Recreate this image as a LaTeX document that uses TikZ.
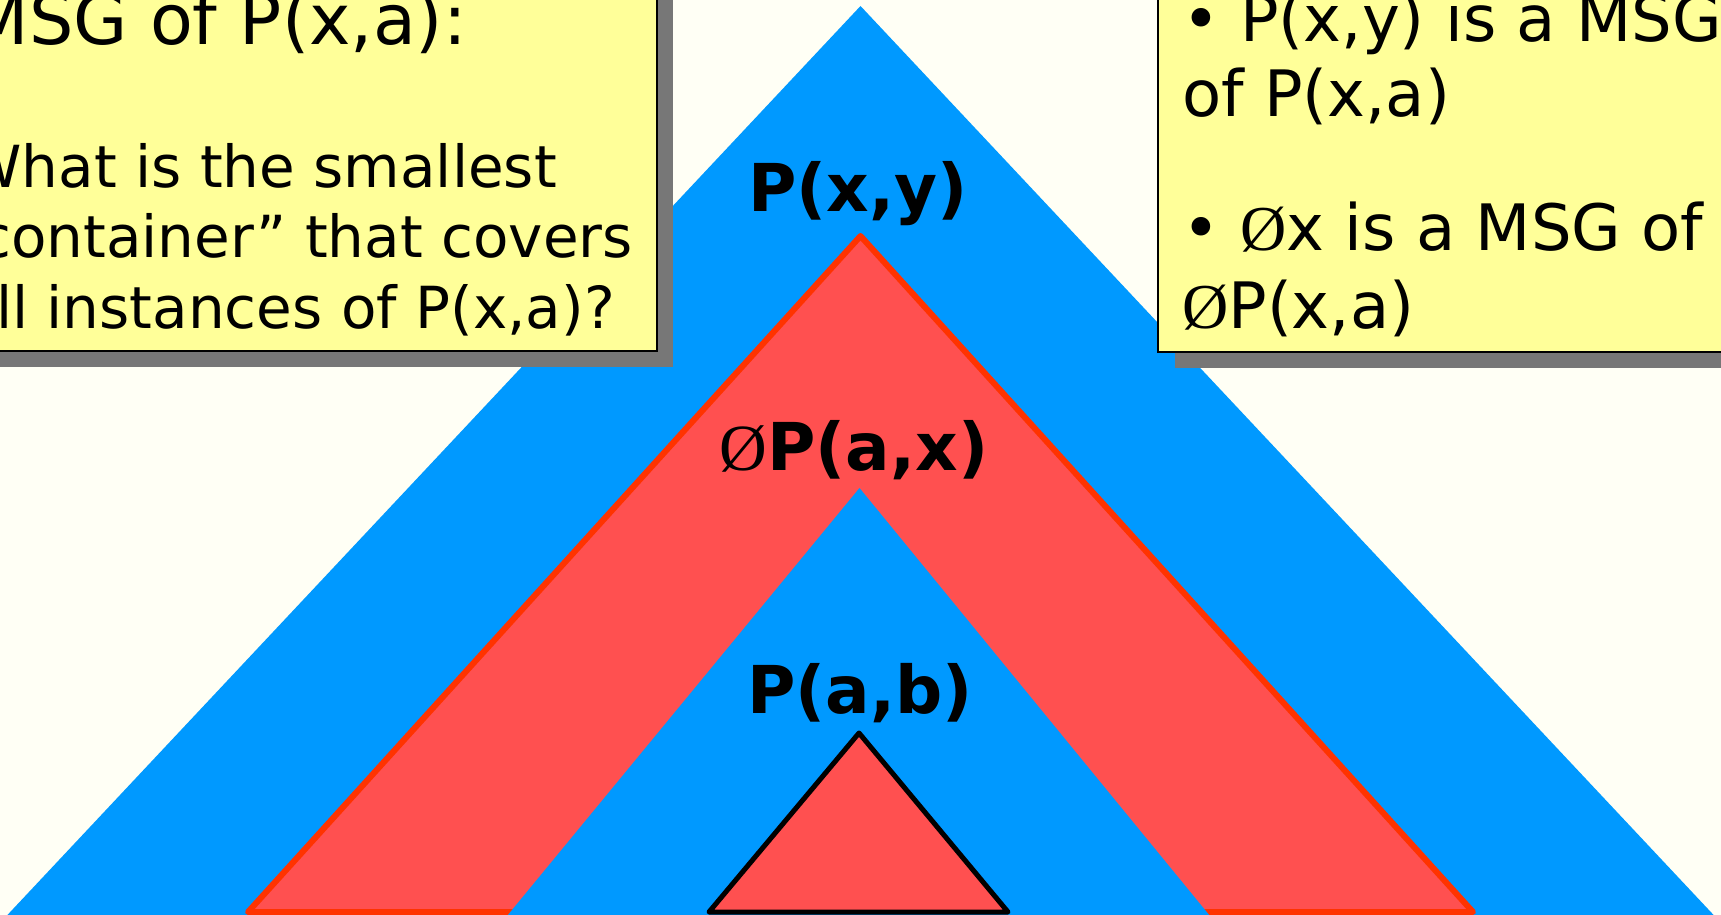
\documentclass[tikz,border=0pt]{standalone}
\usepackage{fontspec}
\setmainfont{DejaVu Sans}
\newfontfamily\emptyfont{Liberation Serif}
\definecolor{bgcream}{RGB}{255,255,245}
\definecolor{triblue}{RGB}{0,153,255}
\definecolor{trired}{RGB}{255,80,80}
\definecolor{redline}{RGB}{255,51,0}
\definecolor{noteyellow}{RGB}{255,255,153}
\definecolor{shadowgray}{RGB}{119,119,119}
\tikzset{
  bluetri/.style={fill=triblue},
  redtri/.style={fill=trired, draw=redline, line width=6pt, line join=round},
  smalltri/.style={fill=trired, draw=black, line width=5pt, line join=round},
  notebox/.style={fill=noteyellow, draw=black, line width=2.5pt},
  noteshadow/.style={fill=shadowgray},
  titleL/.style={anchor=base east, inner sep=0pt, font=\fontsize{70}{84}\selectfont},
  bodyL/.style={anchor=base east, inner sep=0pt, font=\fontsize{58}{70}\selectfont},
  bodyR/.style={anchor=base west, inner sep=0pt, font=\fontsize{64}{76}\selectfont},
  trilabel/.style={anchor=base, inner sep=0pt, font=\fontsize{66}{78}\selectfont\bfseries}
}
\begin{document}
\begin{tikzpicture}[x=1pt,y=-1pt]
\useasboundingbox (0,0) rectangle (1721,915);
\clip (0,0) rectangle (1721,915);
\fill[bgcream] (0,0) rectangle (1721,915);
% triangles
\coordinate (outerTop) at (860.5,6);
\coordinate (outerR) at (1723,925);
\coordinate (outerL) at (-2,925);
\coordinate (redTop) at (860.5,236);
\coordinate (redR) at (1473,912);
\coordinate (redL) at (248,912);
\coordinate (innerTop) at (859.5,488);
\coordinate (innerR) at (1210,916);
\coordinate (innerL) at (507,916);
\coordinate (smallTop) at (859,733);
\coordinate (smallR) at (1008,912);
\coordinate (smallL) at (709,912);
\fill[bluetri] (outerTop) -- (outerR) -- (outerL) -- cycle;
\filldraw[redtri] (redTop) -- (redR) -- (redL) -- cycle;
\fill[bluetri] (innerTop) -- (innerR) -- (innerL) -- cycle;
\filldraw[smalltri] (smallTop) -- (smallR) -- (smallL) -- cycle;
% labels
\node[trilabel] (lxy) at (858,211) {P(x,y)};
\node[trilabel] (lax) at (854,470) {{\mdseries\emptyfont Ø}P(a,x)};
\node[trilabel] (lab) at (860,713) {P(a,b)};
% left note
\fill[noteshadow] (-4,-4) rectangle (673,367);
\filldraw[notebox] (-20,-20) rectangle (657,351);
\node[titleL] (l1) at (467,45) {MSG of P(x,a):};
\node[bodyL] (l2) at (557,187) {What is the smallest};
\node[bodyL] (l3) at (633,257) {“container” that covers};
\node[bodyL] (l4) at (615,328) {all instances of P(x,a)?};
% right note
\fill[noteshadow] (1175,-4) rectangle (1760,368);
\filldraw[notebox] (1158,-20) rectangle (1750,352);
\node[bodyR] (r1) at (1182,42) {• P(x,y) is a MSG};
\node[bodyR] (r2) at (1182,117) {of P(x,a)};
\node[bodyR] (r3) at (1182,250) {• {\emptyfont Ø}x is a MSG of};
\node[bodyR] (r4) at (1182,328) {{\emptyfont Ø}P(x,a)};
\end{tikzpicture}
\end{document}
